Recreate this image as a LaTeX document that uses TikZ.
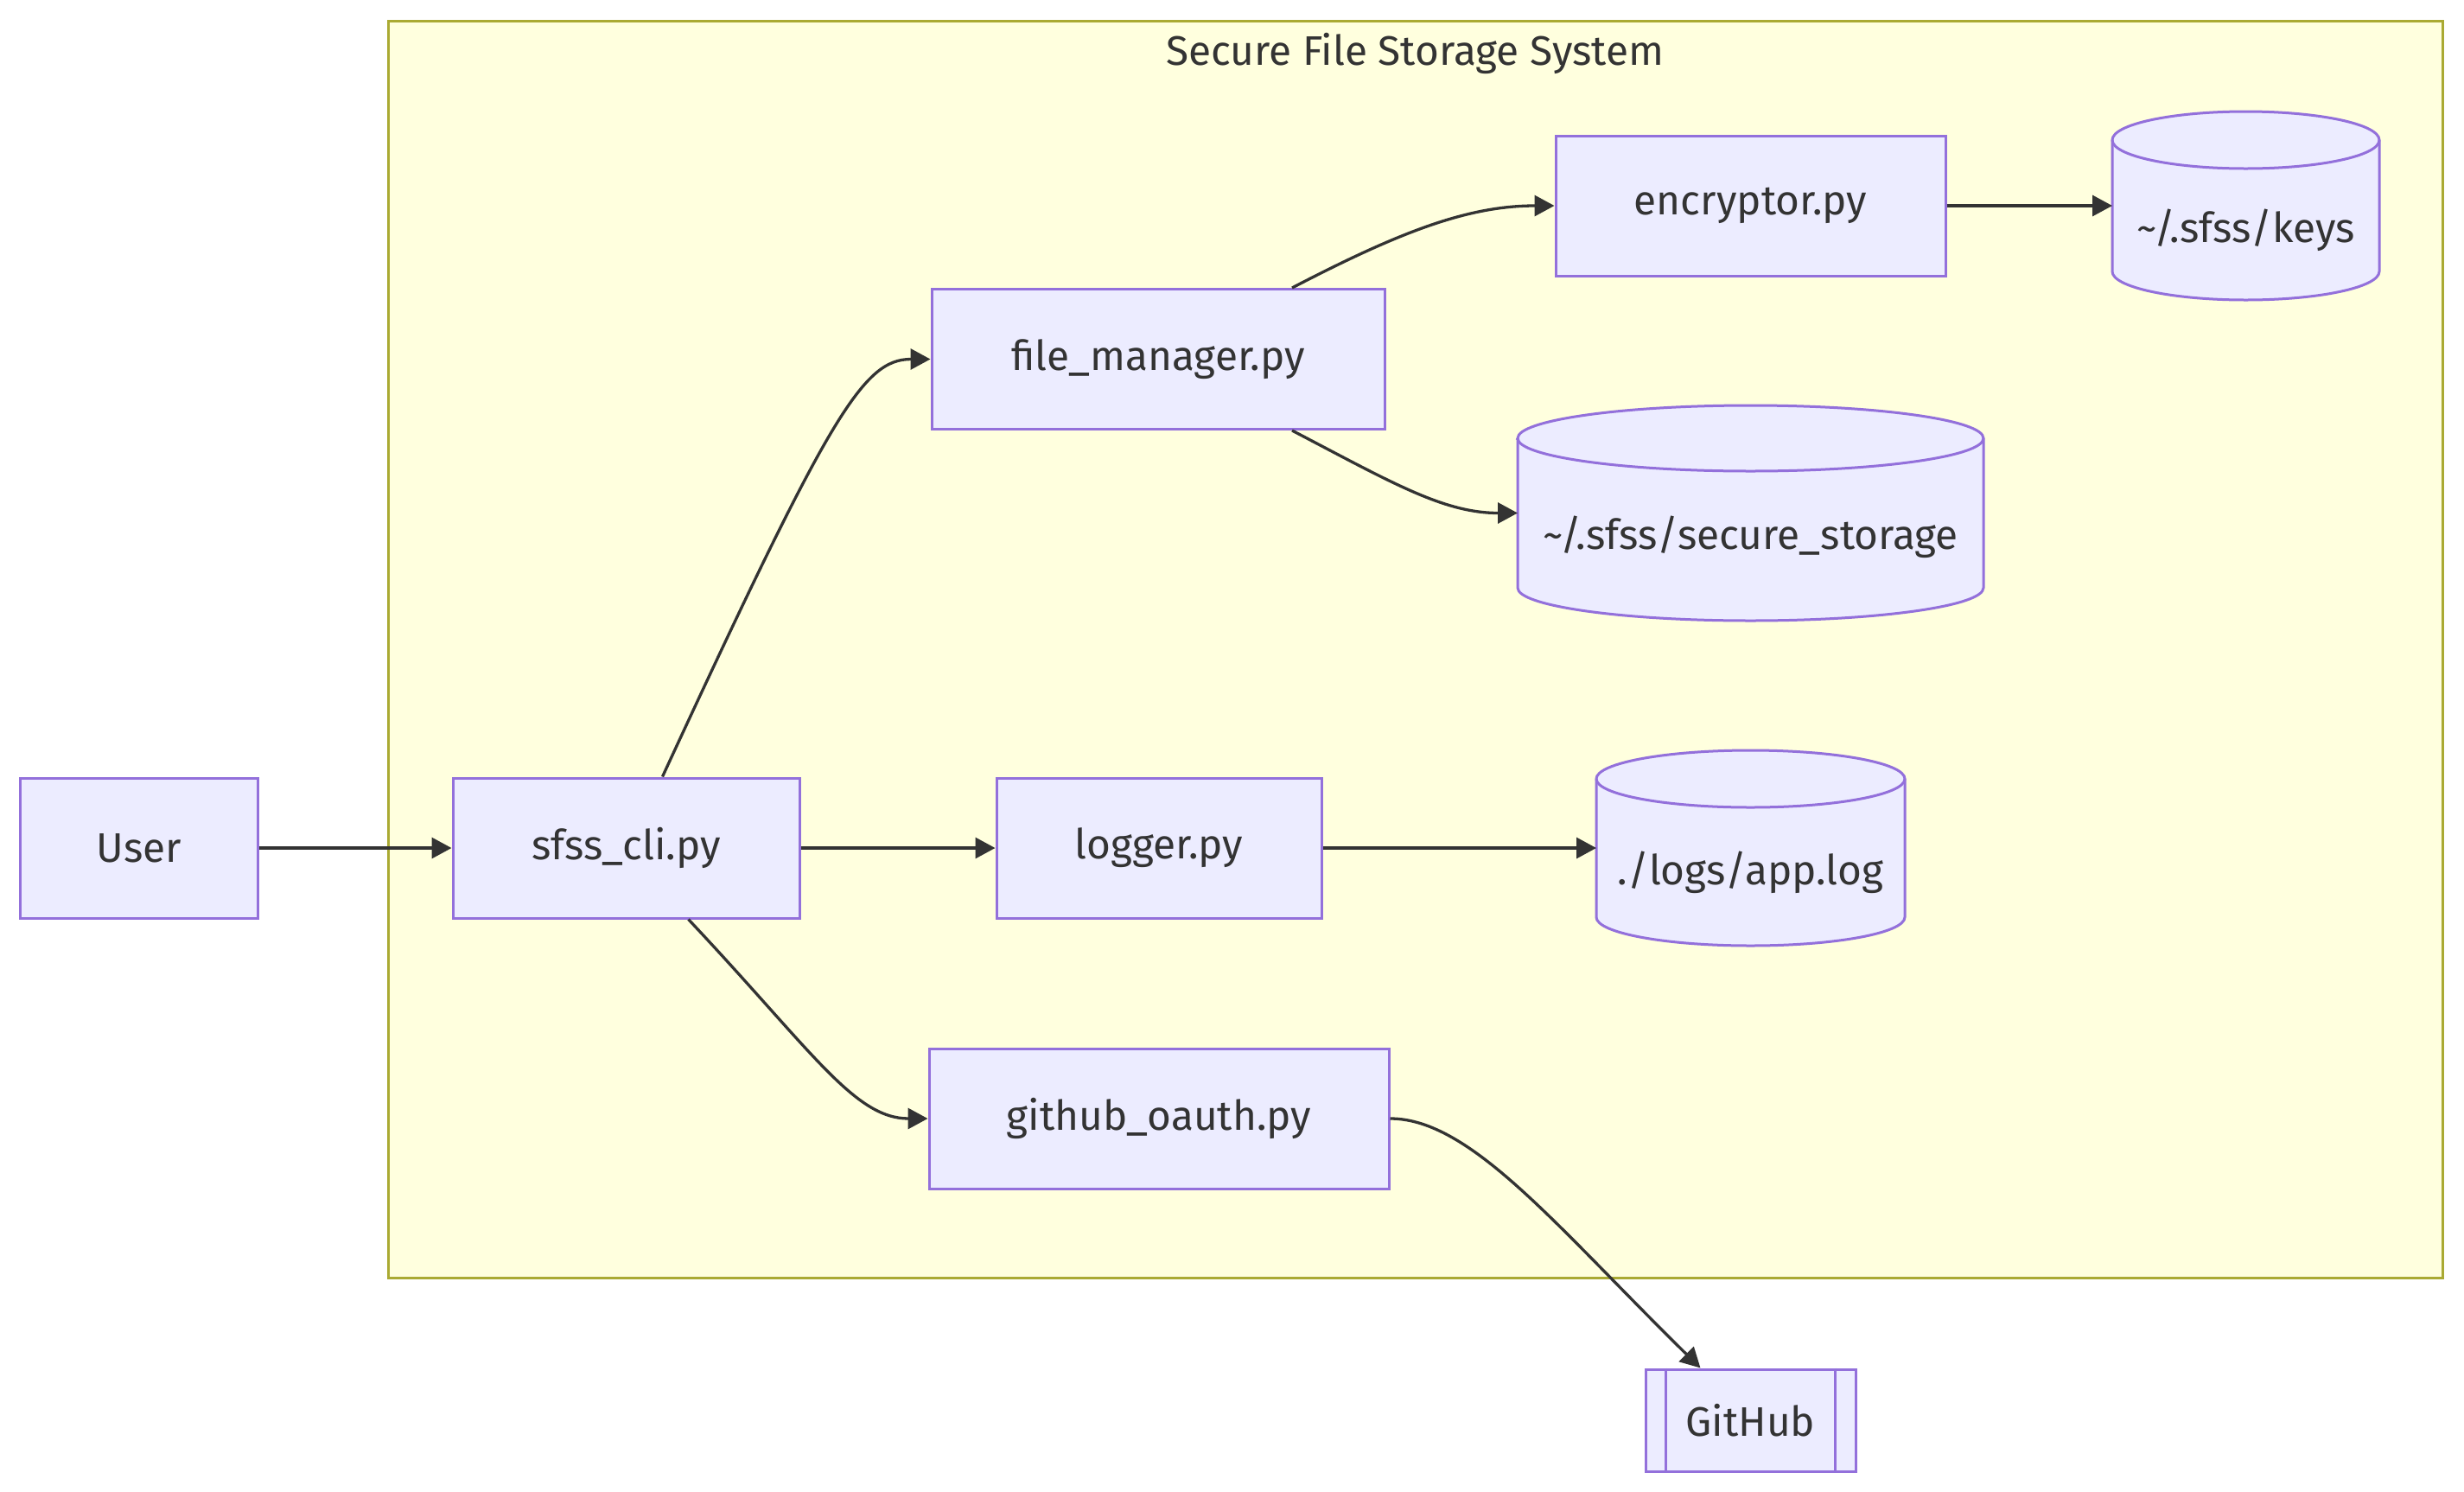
\documentclass[tikz,border=0pt]{standalone}
\usepackage{fontspec}
\setmainfont{Fira Sans}
\usetikzlibrary{arrows.meta}
\definecolor{nodeFill}{HTML}{ECECFF}
\definecolor{nodeLine}{HTML}{9370DB}
\definecolor{groupFill}{HTML}{FFFFDE}
\definecolor{groupLine}{HTML}{AAAA33}
\definecolor{textGrey}{HTML}{333333}
\pgfdeclarelayer{back}
\pgfdeclarelayer{mid}
\pgfsetlayers{back,mid,main}

% cylinder outline round a storage node
\newcommand{\drum}[3]{%
  \begin{pgfonlayer}{mid}
    \draw[rim] ([yshift=-#3]#1.north west) -- ([yshift=#3]#1.south west)
      arc[start angle=180, end angle=360, x radius=#2, y radius=#3]
      -- ([yshift=-#3]#1.north east)
      arc[start angle=0, end angle=180, x radius=#2, y radius=#3] -- cycle;
    \draw[rim, fill=none] ([yshift=-#3]#1.north west)
      arc[start angle=180, end angle=360, x radius=#2, y radius=#3];
  \end{pgfonlayer}}
% label set lower in a storage node
\newcommand{\lowered}[1]{\raisebox{-0.28cm}[\height][\depth]{#1}}

\begin{document}
\begin{tikzpicture}[
    font=\fontsize{13.6}{16}\selectfont, text=textGrey,
    box/.style={draw=nodeLine, fill=nodeFill, line width=0.03cm, minimum height=1.62cm, inner sep=0pt},
    store/.style={minimum height=#1, inner sep=0pt, outer sep=0pt},
    rim/.style={draw=nodeLine, fill=nodeFill, line width=0.03cm},
    link/.style={draw=textGrey, line width=0.033cm, -{Triangle[length=0.23cm, width=0.24cm]}}
  ]
  \useasboundingbox (0,0) rectangle (28.51,-17.26);

  % Subgraph
  \begin{pgfonlayer}{back}
    \node[draw=groupLine, fill=groupFill, line width=0.03cm, inner sep=0pt,
      minimum width=23.77cm, minimum height=14.54cm] (sys) at (16.375,-7.51) {};
  \end{pgfonlayer}
  \node (systitle) at (16.37,-0.62) {Secure File Storage System};

  % Modules
  \node[box, minimum width=2.74cm] (user) at (1.61,-9.81) {User};
  \node[box, minimum width=4.01cm] (cli) at (7.245,-9.81) {sfss\_cli.py};
  \node[box, minimum width=5.24cm] (fm) at (13.40,-4.155) {file\_manager.py};
  \node[box, minimum width=4.51cm] (enc) at (20.255,-2.38) {encryptor.py};
  \node[box, minimum width=3.76cm] (logger) at (13.41,-9.81) {logger.py};
  \node[box, minimum width=5.32cm] (oauth) at (13.41,-12.94) {github\_oauth.py};
  \node[box, minimum width=2.43cm, minimum height=1.18cm] (github) at (20.255,-16.43) {GitHub};
  \draw[rim, fill=none] ([xshift=0.25cm]github.north west) -- ([xshift=0.25cm]github.south west);
  \draw[rim, fill=none] ([xshift=-0.25cm]github.north east) -- ([xshift=-0.25cm]github.south east);

  % Storage
  \node[store=2.18cm, minimum width=3.09cm] (keys) at (25.985,-2.38) {\lowered{\textasciitilde/.sfss/keys}};
  \node[store=2.49cm, minimum width=5.39cm] (vault) at (20.255,-5.935) {\lowered{\textasciitilde/.sfss/secure\_storage}};
  \node[store=2.26cm, minimum width=3.57cm] (applog) at (20.255,-9.81) {\lowered{./logs/app.log}};
  \drum{keys}{1.545cm}{0.33cm}
  \drum{vault}{2.695cm}{0.38cm}
  \drum{applog}{1.785cm}{0.33cm}

  % Arrows
  \draw[link] (user) -- (cli);
  \draw[link] (cli) -- (logger);
  \draw[link] (logger) -- (applog);
  \draw[link] (enc) -- (keys);
  \draw[link] ([xshift=0.42cm]cli.north) .. controls +(1.94,4.2) and +(-0.78,0) .. (fm.west);
  \draw[link] ([xshift=0.72cm]cli.south) .. controls +(1.44,-1.53) and +(-0.85,0) .. (oauth.west);
  \draw[link] ([xshift=1.55cm]fm.north) .. controls +(1.25,0.65) and +(-1.0,0) .. (enc.west);
  \draw[link] ([xshift=1.55cm]fm.south) .. controls +(1.15,-0.6) and +(-0.86,0) .. (vault.west);
  \draw[link] (oauth.east) .. controls +(0.93,0) and +(-1.67,1.64) .. ([xshift=-0.58cm]github.north);
\end{tikzpicture}
\end{document}
